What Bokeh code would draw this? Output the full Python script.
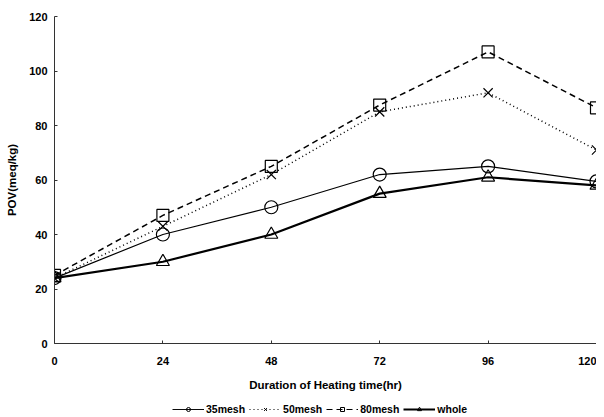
from bokeh.plotting import figure
from bokeh.layouts import column
from bokeh.models import Range1d, Legend, LegendItem, FixedTicker
from bokeh.embed import file_html
from bokeh.resources import INLINE

hours = [0, 24, 48, 72, 96, 120]
mesh35 = [24, 40, 50, 62, 65, 59.5]
mesh50 = [24, 43, 62, 85, 92, 71]
mesh80 = [25, 47, 65, 87.5, 107, 86.5]
whole = [24, 30, 40, 55, 61, 58]
series_names = ["35mesh", "50mesh", "80mesh", "whole"]

x_ticks = [0, 24, 48, 72, 96, 120]
y_ticks = [0, 20, 40, 60, 80, 100, 120]

FONT = "Liberation Sans"

p = figure(width=596, height=398, output_backend="svg", toolbar_location=None,
           x_range=Range1d(0, 120), y_range=Range1d(0, 120))
p.min_border_left = 54
p.min_border_right = 0
p.min_border_top = 16
p.min_border_bottom = 55
p.outline_line_color = None
p.grid.visible = False

for ax in (p.xaxis[0], p.yaxis[0]):
    ax.major_label_text_font = FONT
    ax.major_label_text_font_style = "bold"
    ax.major_label_text_font_size = "11px"
    ax.major_label_text_color = "black"
    ax.axis_label_text_font = FONT
    ax.axis_label_text_font_style = "bold"
    ax.axis_label_text_font_size = "11.5px"
    ax.axis_label_text_color = "black"
    ax.axis_line_color = "#333333"
    ax.major_tick_line_color = "#333333"
    ax.major_tick_in = 3
    ax.major_tick_out = 0
    ax.minor_tick_line_color = None

p.xaxis[0].ticker = FixedTicker(ticks=x_ticks)
p.yaxis[0].ticker = FixedTicker(ticks=y_ticks)
p.xaxis[0].axis_label = "Duration of Heating time(hr)"
p.yaxis[0].axis_label = "POV(meq/kg)"
p.xaxis[0].major_label_standoff = 13
p.xaxis[0].axis_label_standoff = 11
p.yaxis[0].major_label_standoff = 7
p.yaxis[0].axis_label_standoff = 8

styles = [
    dict(line_width=1.2, line_dash="solid", marker="circle", size=13),
    dict(line_width=1.5, line_dash="1 3", marker="x", size=13),
    dict(line_width=1.5, line_dash="6 4", marker="square", size=12),
    dict(line_width=2.2, line_dash="solid", marker="triangle", size=13),
]
values = [mesh35, mesh50, mesh80, whole]

for vals, st in zip(values, styles):
    p.line(hours, vals, line_color="black", line_width=st["line_width"],
           line_dash=st["line_dash"])
    p.scatter(hours, vals, marker=st["marker"], size=st["size"], line_color="black",
              fill_alpha=0, line_width=1.2)

# legend strip below the chart (series drawn out of its visible range)
p2 = figure(width=596, height=18, output_backend="svg", toolbar_location=None,
            x_range=Range1d(1000, 1001), y_range=Range1d(-2, -1))
p2.axis.visible = False
p2.grid.visible = False
p2.outline_line_color = None
p2.min_border = 0

items = []
for name, vals, st in zip(series_names, values, styles):
    lr = p2.line(hours, vals, line_color="black", line_width=st["line_width"] * 0.8,
                 line_dash=st["line_dash"])
    mr = p2.scatter(hours, vals, marker=st["marker"], size=7, line_color="black",
                    fill_alpha=0, line_width=1)
    items.append(LegendItem(label=name, renderers=[lr, mr]))

legend = Legend(items=items, orientation="horizontal", location=(118, 1))
legend.label_text_font = FONT
legend.label_text_font_style = "bold"
legend.label_text_font_size = "10.5px"
legend.label_text_color = "black"
legend.glyph_width = 32
legend.glyph_height = 10
legend.label_height = 10
legend.label_standoff = 2
legend.spacing = 4
legend.padding = 1
legend.margin = 0
legend.border_line_color = None
legend.background_fill_alpha = 0
p2.add_layout(legend)

layout = column(p, p2, spacing=0)
open("out.html", "w").write(file_html(layout, INLINE))
